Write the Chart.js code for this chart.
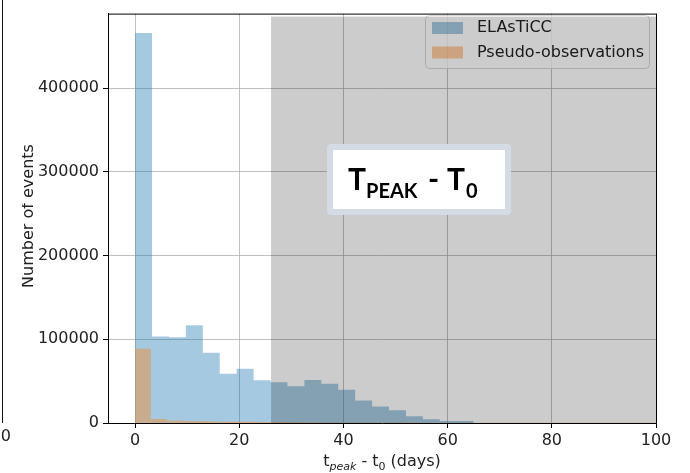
<!DOCTYPE html>
<html>
<head>
<meta charset="utf-8">
<script src="https://cdn.jsdelivr.net/npm/chart.js@4.4.0/dist/chart.umd.min.js"></script>
<style>
  body { margin: 0; background: #fff; }
  #wrap { width: 690px; height: 473px; }
</style>
</head>
<body>
<div id="wrap"><canvas id="peakChart" width="690" height="473"></canvas></div>
<script>
// t_peak - t0 histograms: bin edges in days, counts per bin
var elasticcEdges = [0, 3.25, 6.5, 9.75, 13, 16.25, 19.5, 22.75, 26, 29.25, 32.5,
                     35.75, 39, 42.25, 45.5, 48.75, 52, 55.25, 58.5, 61.75, 65];
var elasticcCounts = [466000, 103500, 102400, 116800, 83900, 58800, 64700, 51000, 48600, 43900,
                      51400, 47000, 39600, 27000, 19800, 15300, 8200, 4600, 2300, 2300];

var pseudoEdges = [0, 3.03, 6.06, 9.09, 12.12, 15.15, 18.18, 21.21, 24.24, 27.27, 30.3, 33.33,
                   36.36, 39.39, 42.42, 45.45, 48.48, 51.52, 54.55, 57.58, 60.61, 63.64, 66.67,
                   69.7, 72.73, 75.76, 78.79, 81.82, 84.85, 87.88, 90.91, 93.94, 96.97, 100];
var pseudoCounts = [88600, 4700, 3100, 2300, 2200, 1600, 1500, 1400, 1300, 1200, 900,
                    800, 700, 650, 600, 550, 500, 450, 400, 400, 350, 350,
                    300, 300, 300, 250, 250, 250, 200, 200, 200, 200, 200];

var seriesNames = ['ELAsTiCC', 'Pseudo-observations'];
var xTicks = [0, 20, 40, 60, 80, 100];
var yTicks = [0, 100000, 200000, 300000, 400000];
var shadeFrom = 26.1; // start of the greyed-out range (days)

var FONT = '"DejaVu Sans", sans-serif';
var blueFill = 'rgba(31, 119, 180, 0.4)';
var orangeFill = 'rgba(255, 127, 14, 0.4)';

// turn edges + counts into step points (last point drops back to zero)
function toSteps(edges, counts) {
    var pts = [];
    for (var i = 0; i < counts.length; i++) {
        pts.push({x: edges[i], y: counts[i]});
    }
    pts.push({x: edges[edges.length - 1], y: 0});
    return pts;
}

function drawLegend(ctx) {
    var x = 425.5, y = 15.5, w = 224, h = 53;
    ctx.save();
    ctx.beginPath();
    ctx.roundRect(x, y, w, h, 4);
    ctx.fillStyle = 'rgba(255,255,255,0.8)';
    ctx.fill();
    ctx.strokeStyle = 'rgba(204,204,204,0.8)';
    ctx.lineWidth = 1;
    ctx.stroke();
    var fills = [blueFill, orangeFill];
    var rows = [28, 52.5];
    ctx.font = '16px ' + FONT;
    ctx.textBaseline = 'middle';
    ctx.textAlign = 'left';
    for (var i = 0; i < 2; i++) {
        ctx.fillStyle = fills[i];
        ctx.fillRect(432, rows[i] - 6, 31, 12);
        ctx.fillStyle = '#222';
        ctx.fillText(seriesNames[i], 477, rows[i]);
    }
    ctx.restore();
}

function drawTitleBox(ctx) {
    ctx.save();
    ctx.fillStyle = '#d5dbe4';
    ctx.beginPath();
    ctx.roundRect(327, 144, 184, 71, 4);
    ctx.fill();
    ctx.fillStyle = '#fff';
    ctx.fillRect(333, 150, 172, 59);
    ctx.fillStyle = '#000';
    ctx.textBaseline = 'alphabetic';
    ctx.textAlign = 'left';
    var big = 'bold 30px Lato, sans-serif';
    var small = 'bold 20px Lato, sans-serif';
    ctx.font = big;  ctx.fillText('T', 348, 190);
    ctx.font = small; ctx.fillText('PEAK', 366, 198);
    ctx.font = big;  ctx.fillText('-', 428, 190);
    ctx.font = big;  ctx.fillText('T', 447, 190);
    ctx.font = small; ctx.fillText('0', 466, 198);
    ctx.restore();
}

function drawAxisTitles(ctx) {
    ctx.save();
    ctx.fillStyle = '#222';
    ctx.textBaseline = 'alphabetic';
    ctx.textAlign = 'left';
    // x title with subscripts
    var parts = [
        {t: 't', f: '16px ' + FONT, dy: 0},
        {t: 'peak', f: 'italic 11px ' + FONT, dy: 3.5},
        {t: ' - t', f: '16px ' + FONT, dy: 0},
        {t: '0', f: '11px ' + FONT, dy: 3.5},
        {t: ' (days)', f: '16px ' + FONT, dy: 0}
    ];
    var total = 0;
    parts.forEach(function (p) { ctx.font = p.f; p.w = ctx.measureText(p.t).width; total += p.w; });
    var cx = 382 - total / 2;
    parts.forEach(function (p) {
        ctx.font = p.f;
        ctx.fillText(p.t, cx, 466 + p.dy);
        cx += p.w;
    });

    // y title, its top edge runs off the left side
    ctx.beginPath();
    ctx.rect(22, 0, 100, 473);
    ctx.clip();
    ctx.translate(33, 216);
    ctx.rotate(-Math.PI / 2);
    ctx.textAlign = 'center';
    ctx.font = '16px ' + FONT;
    ctx.fillText('Number of events', 0, 0);
    ctx.restore();

    // edge of the neighbouring panel
    ctx.save();
    ctx.strokeStyle = '#111';
    ctx.lineWidth = 1;
    ctx.beginPath();
    ctx.moveTo(2.5, 0);
    ctx.lineTo(2.5, 423);
    ctx.stroke();
    ctx.fillStyle = '#222';
    ctx.font = '16px ' + FONT;
    ctx.textAlign = 'right';
    ctx.textBaseline = 'top';
    ctx.fillText('100', 11, 429);
    ctx.restore();
}

var overlayPlugin = {
    id: 'overlay',
    afterDraw: function (chart) {
        var ctx = chart.ctx;
        var area = chart.chartArea;
        var xs = chart.scales.x;

        // top and right spines
        ctx.save();
        ctx.strokeStyle = '#000';
        ctx.lineWidth = 1;
        ctx.beginPath();
        ctx.moveTo(area.left, area.top + 0.5);
        ctx.lineTo(area.right, area.top + 0.5);
        ctx.moveTo(area.right + 0.5, area.top);
        ctx.lineTo(area.right + 0.5, area.bottom);
        ctx.stroke();
        ctx.restore();

        drawLegend(ctx);

        // greyed range
        var sx = xs.getPixelForValue(shadeFrom);
        ctx.save();
        ctx.fillStyle = 'rgba(0,0,0,0.2)';
        ctx.fillRect(sx, area.top + 3, area.right - sx, area.bottom - area.top - 3);
        ctx.restore();

        drawTitleBox(ctx);
        drawAxisTitles(ctx);
    }
};

var ctx = document.getElementById('peakChart').getContext('2d');
var peakChart = new Chart(ctx, {
    type: 'line',
    data: {
        datasets: [{
            label: seriesNames[0],
            data: toSteps(elasticcEdges, elasticcCounts),
            stepped: true,
            fill: 'origin',
            backgroundColor: blueFill,
            borderColor: 'rgba(0,0,0,0)',
            pointRadius: 0,
            order: 2
        }, {
            label: seriesNames[1],
            data: toSteps(pseudoEdges, pseudoCounts),
            stepped: true,
            fill: 'origin',
            backgroundColor: orangeFill,
            borderColor: 'rgba(0,0,0,0)',
            pointRadius: 0,
            order: 1
        }]
    },
    options: {
        responsive: false,
        animation: false,
        devicePixelRatio: 1,
        layout: { padding: { top: 7, right: 34, left: 0, bottom: 0 } },
        plugins: {
            legend: { display: false },
            tooltip: { enabled: false }
        },
        scales: {
            x: {
                type: 'linear',
                min: -5.2,
                max: 100,
                z: 1,
                afterBuildTicks: function (s) { s.ticks = xTicks.map(function (v) { return {value: v}; }); },
                afterFit: function (s) { s.height = 50; },
                grid: { color: '#b0b0b0', lineWidth: 0.8, tickColor: '#000', tickLength: 5, tickWidth: 1 },
                border: { display: true, color: '#000', width: 1 },
                ticks: {
                    font: { family: FONT, size: 16 },
                    color: '#222',
                    padding: 3,
                    maxRotation: 0,
                    callback: function (v) { return String(v); }
                }
            },
            y: {
                min: 0,
                max: 489300,
                z: 1,
                afterBuildTicks: function (s) { s.ticks = yTicks.map(function (v) { return {value: v}; }); },
                afterFit: function (s) { s.width = 108; },
                grid: { color: '#b0b0b0', lineWidth: 0.8, tickColor: '#000', tickLength: 5, tickWidth: 1 },
                border: { display: true, color: '#000', width: 1 },
                ticks: {
                    font: { family: FONT, size: 16 },
                    color: '#222',
                    padding: 4,
                    callback: function (v) { return String(v); }
                }
            }
        }
    },
    plugins: [overlayPlugin]
});
</script>
</body>
</html>
